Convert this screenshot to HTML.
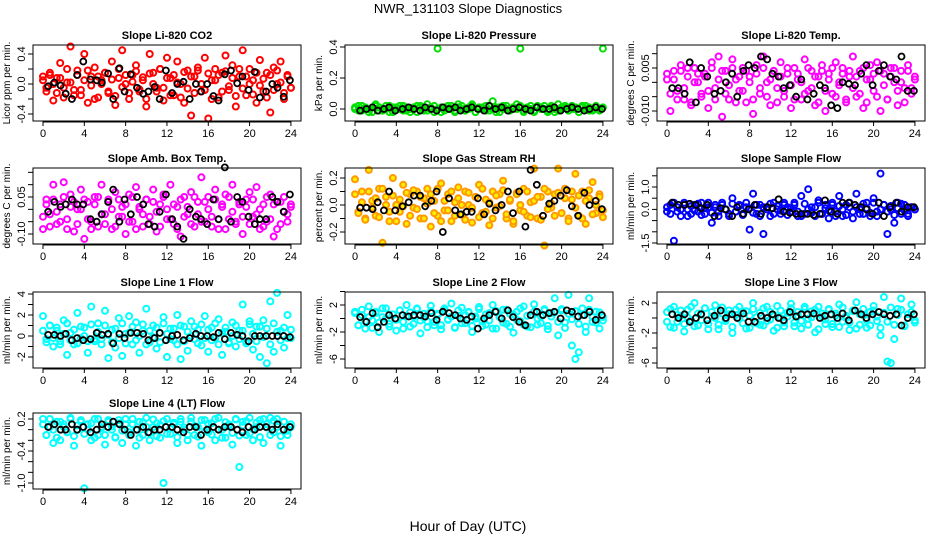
<!DOCTYPE html>
<html><head><meta charset="utf-8"><style>
body{margin:0;background:#fff}
svg{display:block;font-family:"Liberation Sans",sans-serif}
</style></head><body>
<svg id="c" width="936" height="540" viewBox="0 0 936 540">
<text x="468" y="13" text-anchor="middle" font-size="13">NWR_131103  Slope Diagnostics</text>
<text x="468" y="531" text-anchor="middle" font-size="14">Hour of Day (UTC)</text>
</svg>
<script>
const blackHours=[0.5,1.1,1.7,2.2,2.8,3.3,3.9,4.6,5.2,5.7,6.3,6.8,7.4,7.9,8.5,9.1,9.7,10.2,10.8,11.3,11.9,12.5,13.0,13.6,14.2,14.8,15.3,15.9,16.5,17.0,17.6,18.2,18.8,19.3,19.9,20.5,21.0,21.6,22.2,22.7,23.3,23.9];
const xTicks=[0,4,8,12,16,20,24];
const co2=[0.05,-0.1,0.12,-0.22,0.08,0.28,-0.05,0.02,0.5,-0.15,0.18,-0.08,0.4,-0.25,0.1,0.22,-0.18,0.05,0.15,-0.12,0.3,-0.28,0.08,0.45,0.0,-0.2,0.12,0.25,-0.1,0.05,-0.3,0.4,0.15,-0.05,0.2,-0.22,0.35,0.08,-0.15,0.3,0.0,-0.25,0.18,-0.42,0.1,0.22,-0.1,0.35,-0.46,0.05,0.2,-0.18,0.15,0.38,-0.08,0.25,-0.3,0.1,0.45,-0.15,0.2,0.05,-0.25,0.32,-0.1,0.15,-0.38,0.22,0.0,0.3,-0.2,0.12,-0.05];
const co2Dense=[0.1,-0.05,0.15,0.0,-0.12,0.08,-0.18,0.2,0.02,-0.08,0.12,-0.15,0.05,0.18,-0.02,-0.2,0.1,0.0,0.15,-0.1,0.06,-0.16,0.2,-0.04,0.12,-0.12,0.03,0.17,-0.07,0.09,-0.2,0.14,0.0,-0.1,0.2,-0.05,0.08,-0.15,0.12,0.02,-0.18,0.16,-0.06,0.1,-0.12,0.18,0.0,-0.08,0.14,-0.2,0.05,0.12,-0.1,0.17,-0.03,0.08,-0.16,0.2,-0.06,0.1,0.0,-0.14,0.15,-0.02,0.07,-0.18,0.12,-0.08,0.18,0.02,-0.12,0.1,-0.05];
const co2Black=[-0.03,0.02,-0.02,-0.13,-0.2,0.12,0.3,0.06,0.05,0.02,0.14,-0.2,0.21,-0.1,0.13,-0.05,-0.13,-0.1,-0.04,-0.2,0.18,-0.12,0.0,0.03,-0.2,0.0,-0.1,0.0,-0.16,-0.22,0.13,0.18,0.01,0.1,-0.08,0.16,-0.18,-0.1,0.0,-0.05,-0.17,0.05];
const press=[0.01,-0.01,0.02,0.0,-0.02,0.01,0.03,-0.01,0.0,0.02,-0.02,0.01,0.0,0.02,-0.01,0.01,-0.02,0.0,0.02,0.01,-0.01,0.03,0.0,-0.02,0.39,0.01,-0.01,0.02,0.0,-0.02,0.01,0.02,-0.01,0.0,0.03,-0.02,0.01,0.0,0.02,-0.01,0.05,0.01,-0.02,0.0,0.02,-0.01,0.01,0.03,0.39,-0.01,0.0,0.02,-0.02,0.01,0.0,0.02,-0.01,0.01,-0.02,0.03,0.0,0.01,-0.01,0.02,0.0,-0.02,0.01,0.02,-0.01,0.0,0.01,-0.01,0.39];
const pressDense=[0.0,0.02,-0.01,0.01,0.0,-0.02,0.02,0.01,-0.01,0.0,0.02,-0.02,0.01,0.0,0.02,-0.01,0.0,0.01,-0.02,0.02,0.0,-0.01,0.01,0.02,0.0,-0.02,0.01,0.0,0.02,-0.01,0.03,0.0,-0.01,0.01,0.02,-0.02,0.0,0.01,-0.01,0.02,0.0,-0.02,0.01,0.02,0.0,-0.01,0.01,0.0,0.02,-0.02,0.01,0.0,-0.01,0.02,0.01,0.0,-0.02,0.02,0.0,-0.01,0.01,0.02,-0.01,0.0,0.01,-0.02,0.02,0.0,0.01,-0.01,0.02,0.0,0.01];
const pressBlack=[-0.01,0.0,0.01,-0.01,0.0,0.01,-0.01,0.0,0.01,0.0,-0.01,0.01,0.0,-0.01,0.01,0.0,0.01,-0.01,0.0,0.01,0.0,-0.01,0.02,0.0,0.01,-0.01,0.0,0.01,0.0,-0.01,0.01,0.0,0.0,0.01,-0.01,0.0,0.01,0.0,-0.01,0.0,0.01,0.0];
const temp=[0.001,-0.01,0.004,-0.003,0.006,-0.006,0.002,-0.008,0.005,0.0,-0.004,0.003,-0.009,0.007,-0.002,0.009,-0.012,0.004,-0.006,0.008,0.001,-0.003,0.005,-0.007,0.002,-0.011,0.006,-0.004,0.009,0.0,-0.008,0.004,-0.002,0.007,-0.005,0.003,-0.009,0.005,0.001,-0.006,0.008,-0.003,0.004,-0.008,0.002,0.006,-0.01,0.003,-0.004,0.007,-0.001,0.005,-0.007,0.002,0.009,-0.005,0.004,-0.009,0.001,0.006,-0.003,0.007,-0.01,0.003,-0.006,0.005,0.0,-0.008,0.004,-0.002,0.006,-0.004,0.001];
const tempDense=[0.003,-0.004,0.001,-0.006,0.004,-0.002,0.005,-0.007,0.0,0.003,-0.005,0.002,-0.003,0.005,-0.006,0.001,0.004,-0.004,-0.001,0.005,-0.007,0.002,-0.003,0.004,0.0,-0.006,0.003,-0.002,0.005,-0.005,0.001,0.004,-0.007,0.002,-0.003,0.005,-0.001,-0.006,0.003,0.0,-0.004,0.005,-0.002,0.002,-0.007,0.004,-0.003,0.001,0.005,-0.005,0.0,0.003,-0.006,0.004,-0.002,0.002,-0.004,0.005,-0.007,0.001,0.003,-0.005,0.004,-0.001,-0.006,0.002,0.005,-0.003,0.0,-0.007,0.004,-0.002,0.002];
const tempBlack=[-0.002,-0.002,-0.004,0.007,-0.007,0.005,0.002,-0.004,-0.003,0.0,0.003,-0.005,0.004,0.006,0.005,0.009,0.008,0.003,0.002,-0.002,-0.001,-0.005,0.001,-0.006,-0.004,-0.001,-0.002,-0.008,-0.009,0.0,-0.0005,-0.001,0.003,0.006,-0.001,0.004,0.006,0.002,0.001,0.009,-0.003,-0.003];
const boxT=[-0.08,0.04,-0.02,0.1,-0.06,0.02,0.11,-0.04,0.06,-0.09,0.0,0.08,-0.12,0.03,-0.05,0.05,-0.07,0.1,-0.02,0.04,-0.08,0.07,-0.03,0.01,-0.1,0.06,-0.05,0.09,0.0,-0.07,0.04,-0.03,0.08,-0.09,0.02,0.06,-0.04,0.1,-0.06,0.01,-0.11,0.05,-0.02,0.07,-0.07,0.03,0.13,-0.05,0.05,-0.03,0.08,-0.08,0.01,0.06,-0.04,0.1,-0.06,0.02,-0.1,0.04,0.07,-0.03,0.09,-0.08,0.02,-0.05,0.06,-0.11,0.03,-0.06,0.05,-0.02,0.01];
const boxTDense=[-0.03,0.02,-0.07,0.04,-0.01,-0.05,0.05,-0.08,0.01,0.03,-0.06,0.0,0.04,-0.04,-0.08,0.02,0.05,-0.02,-0.06,0.03,0.0,-0.07,0.04,-0.03,0.02,-0.05,0.05,-0.08,0.01,-0.02,0.04,-0.06,0.03,-0.01,-0.07,0.05,0.0,-0.04,0.02,-0.08,0.04,-0.03,0.01,-0.06,0.05,-0.02,-0.05,0.03,0.0,-0.07,0.04,-0.04,0.02,-0.08,0.05,-0.01,-0.05,0.03,-0.03,0.01,-0.06,0.04,-0.02,0.0,-0.07,0.05,-0.04,0.02,-0.08,0.03,-0.01,-0.05,0.02];
const boxTBlack=[-0.01,0.03,0.01,0.02,0.04,0.02,0.02,-0.04,-0.05,-0.02,0.03,0.08,-0.05,0.04,-0.02,0.05,0.02,-0.06,-0.07,-0.01,0.06,-0.04,-0.07,-0.12,0.0,-0.03,-0.04,-0.06,0.04,-0.04,0.17,-0.05,0.05,0.03,-0.03,-0.06,-0.04,-0.04,0.05,0.03,-0.01,0.06];
const rh=[0.19,-0.05,0.1,-0.1,0.26,0.03,-0.08,0.12,-0.28,0.06,-0.12,0.2,0.0,-0.05,0.15,-0.14,0.08,-0.02,0.1,-0.1,0.05,0.12,-0.16,0.03,-0.08,0.16,-0.04,0.08,-0.12,0.02,0.13,-0.07,0.1,0.0,-0.13,0.06,0.15,-0.06,0.04,-0.15,0.1,-0.02,0.08,0.18,-0.1,0.03,-0.14,0.09,-0.04,0.12,-0.08,0.02,0.27,-0.1,0.06,-0.3,0.1,-0.02,0.08,0.27,-0.06,0.12,-0.1,0.04,0.23,-0.08,0.1,-0.14,0.05,0.17,-0.06,0.08,-0.04];
const rhDense=[0.08,-0.06,0.02,-0.11,0.1,-0.02,0.05,-0.09,0.12,0.0,-0.05,0.07,-0.12,0.04,-0.01,0.09,-0.08,0.11,-0.03,0.06,-0.1,0.01,0.08,-0.06,0.12,-0.12,0.03,-0.04,0.1,-0.08,0.05,0.0,-0.11,0.09,-0.02,0.06,-0.09,0.12,-0.05,0.02,-0.1,0.07,-0.01,0.11,-0.07,0.04,-0.12,0.08,0.0,-0.05,0.1,-0.09,0.03,0.06,-0.11,0.12,-0.03,0.01,-0.08,0.09,-0.06,0.05,-0.12,0.1,-0.02,0.07,-0.1,0.03,0.11,-0.07,0.0,0.06,-0.09];
const rhBlack=[-0.02,-0.02,-0.03,0.02,-0.04,0.1,-0.04,-0.01,0.02,0.07,0.07,-0.01,0.03,0.1,-0.2,0.05,-0.04,-0.07,-0.05,-0.05,0.05,-0.07,0.01,-0.04,0.0,0.1,-0.06,0.1,-0.16,0.26,0.15,-0.08,0.01,0.03,0.07,0.11,-0.01,-0.08,0.09,0.0,0.03,-0.03];
const sflow=[-0.1,0.2,-1.4,0.1,-0.3,0.3,0.0,-0.2,0.2,-0.1,0.3,-0.2,0.1,-0.6,0.2,-0.1,0.3,0.0,-0.3,0.5,-0.1,0.2,-0.2,0.1,-0.9,0.7,-0.2,0.2,-1.1,0.1,-0.3,0.3,0.0,-0.2,0.2,0.1,-0.1,0.3,-0.3,0.6,-0.2,0.9,0.1,-0.3,0.4,-0.2,0.2,-0.4,0.3,-0.1,0.6,-0.3,0.2,0.1,-0.4,0.7,0.0,-0.2,0.3,-0.3,0.5,-0.1,1.6,0.2,-1.1,0.0,-0.6,0.3,-0.2,0.2,-0.3,0.1,0.0];
const sflowDense=[0.1,-0.2,0.3,-0.1,0.0,0.2,-0.3,0.15,-0.05,0.25,-0.25,0.05,0.3,-0.15,0.1,-0.3,0.2,0.0,-0.2,0.25,-0.1,0.15,-0.25,0.3,0.05,-0.15,0.2,-0.3,0.1,0.0,0.25,-0.2,0.15,-0.05,0.3,-0.25,0.05,0.2,-0.1,-0.3,0.25,0.0,-0.15,0.1,0.3,-0.2,0.05,-0.05,0.2,-0.3,0.15,0.0,-0.25,0.3,-0.1,0.1,-0.2,0.25,0.05,-0.15,0.3,-0.3,0.0,0.2,-0.1,0.15,-0.25,0.05,0.25,-0.05,-0.2,0.1,0.0];
const sflowBlack=[0.3,0.2,0.2,0.25,0.2,0.05,0.2,-0.3,0.05,0.0,-0.3,0.1,-0.2,0.0,0.2,-0.2,0.1,0.05,0.45,-0.1,-0.15,-0.2,-0.2,-0.2,-0.25,-0.2,0.4,-0.1,-0.2,0.3,0.3,0.2,0.1,0.0,-0.2,0.3,-0.3,0.1,0.3,-0.1,0.1,0.1];
const line1=[1.9,-0.3,1.0,-1.0,0.5,-0.5,1.5,-1.8,0.3,-0.8,2.2,-0.2,0.8,-1.6,2.8,-0.5,1.2,-0.3,2.4,-2.1,0.6,-1.1,1.7,-1.9,0.2,1.9,-0.8,1.3,-1.6,0.5,2.6,-0.6,1.0,-1.2,0.3,1.8,-2.0,0.7,-0.4,2.0,-2.2,0.9,-1.4,1.4,-0.3,0.6,-0.9,1.9,-1.5,0.8,-0.2,1.6,-1.8,0.4,-0.7,1.3,-1.0,0.5,3.0,-0.5,1.4,-1.3,0.9,-2.0,1.5,-2.6,3.3,-1.5,4.1,0.5,-1.1,2.0,-0.2];
const line1Dense=[0.5,-0.6,1.0,-0.2,0.8,-0.8,0.2,1.2,-0.4,0.6,-0.7,0.9,0.0,-0.5,1.1,-0.3,0.4,-0.8,1.0,0.1,-0.6,0.7,-0.2,1.2,-0.7,0.3,0.9,-0.4,0.0,1.1,-0.8,0.5,-0.1,0.8,-0.6,1.2,0.2,-0.3,0.7,-0.8,1.0,-0.5,0.4,0.0,0.9,-0.7,1.1,-0.2,0.6,-0.4,1.2,-0.8,0.3,0.8,-0.6,0.0,1.0,-0.3,0.5,-0.7,1.1,0.2,-0.5,0.9,-0.1,0.7,-0.8,1.2,0.4,-0.4,0.8,-0.2,0.6];
const line1Black=[0.1,0.1,0.0,0.2,-0.4,-0.2,-0.4,-0.3,0.3,0.1,0.2,-0.7,0.2,-0.2,0.3,0.3,0.2,-0.4,-0.2,0.3,-0.4,0.0,0.1,-0.4,-0.2,0.2,0.0,0.0,-0.1,0.3,-0.3,0.3,0.1,0.0,-0.5,0.0,0.0,0.0,0.0,0.0,0.0,-0.1];
const line2=[1.0,-1.0,0.5,-1.5,1.8,-0.3,0.8,-2.0,0.2,1.5,-0.8,0.6,-1.8,1.2,-0.5,2.0,-1.2,0.3,1.5,-2.2,0.7,-0.4,1.9,-1.0,0.5,-1.6,1.2,-0.2,2.2,-1.3,0.4,1.6,-0.7,0.9,-2.0,0.3,1.7,-1.1,0.6,-0.3,2.0,-1.5,0.2,1.3,-0.8,0.7,-2.1,1.0,-0.4,1.8,-1.2,0.5,2.1,-0.9,0.3,1.4,-1.6,0.8,3.0,-2.5,1.2,-0.6,3.5,-4.0,-6.0,-5.0,1.5,-2.0,3.0,-0.5,1.0,-1.5,0.2];
const line2Dense=[0.8,-1.0,1.3,-0.4,0.2,-1.4,1.0,-0.6,1.5,0.0,-1.2,0.6,-0.2,1.2,-1.5,0.4,0.9,-0.8,1.4,-0.3,0.1,-1.3,1.1,-0.5,0.7,-1.0,1.5,-0.1,0.3,-1.4,1.2,-0.7,0.5,1.0,-1.1,0.0,1.4,-0.4,-0.9,0.8,-1.5,1.1,0.2,-0.6,1.3,-1.2,0.6,-0.2,1.5,-0.9,0.4,-1.3,1.0,0.0,-0.7,1.2,-1.1,0.3,0.9,-0.5,1.4,-1.4,0.7,-0.1,1.1,-0.8,0.5,-1.2,1.3,0.2,-0.6,0.9,-0.3];
const line2Black=[0.2,-0.5,0.8,-1.3,-0.5,0.5,0.0,0.5,0.3,0.5,0.5,0.3,0.8,-0.2,1.0,0.8,0.5,0.0,-0.2,0.3,-1.5,0.0,0.5,1.0,0.0,1.2,0.2,-0.5,-1.0,0.5,1.0,0.5,0.8,1.0,0.0,1.2,1.0,0.3,0.5,1.0,-0.2,0.5];
const line3=[0.8,-1.2,1.5,-0.5,0.3,-1.8,1.1,-0.3,2.0,-1.0,0.5,1.3,-0.8,0.2,1.7,-1.5,0.6,-0.2,1.0,-2.0,0.4,1.5,-0.7,0.9,-1.3,2.0,0.1,-0.9,1.3,-0.4,0.8,-1.7,1.6,0.0,-1.1,0.7,1.9,-0.6,0.3,-1.4,1.2,-0.1,0.9,-1.9,1.5,0.2,-0.8,1.1,-1.2,0.6,1.8,-0.5,0.3,-1.6,1.0,2.1,-0.9,0.4,-1.3,0.8,1.6,-0.4,-2.3,2.8,-5.8,-6.0,-2.8,1.2,2.6,-1.0,0.5,1.8,-0.3];
const line3Dense=[-0.5,1.2,-1.3,0.4,1.0,-0.8,0.1,1.5,-1.1,0.6,-0.3,1.3,-1.5,0.8,0.0,-0.9,1.4,-0.4,0.5,-1.2,1.1,-0.1,0.9,-1.4,0.3,1.2,-0.7,0.7,-1.0,1.5,-0.2,0.4,-1.3,1.0,-0.6,0.2,1.3,-1.1,0.8,-0.4,1.5,-0.9,0.1,1.1,-1.5,0.6,-0.2,1.2,-0.8,0.3,-1.2,1.4,0.0,-0.6,0.9,-1.4,0.5,1.2,-0.3,-1.0,1.0,0.2,-1.3,0.7,-0.5,1.4,-0.9,0.4,1.1,-1.1,0.0,0.8,-0.6];
const line3Black=[0.5,0.0,0.5,-0.5,0.0,0.5,-0.3,0.3,1.0,0.0,0.5,0.0,0.6,-0.5,-0.5,0.3,0.0,0.5,0.0,-0.3,0.8,0.2,0.5,0.5,0.6,0.0,0.3,0.5,0.0,0.6,-0.3,1.0,0.5,0.0,0.5,0.8,0.5,0.3,0.5,-1.0,0.0,0.5];
const line4=[0.2,-0.1,0.05,-0.25,0.15,-0.2,0.1,-0.05,0.22,-0.3,0.0,0.15,-1.1,0.1,-0.2,0.2,-0.1,0.05,-0.28,0.18,0.0,-0.15,0.12,-0.25,0.2,-0.05,0.1,-0.3,0.15,-0.1,0.22,-0.2,0.05,0.12,-0.15,-1.0,0.2,-0.08,0.1,-0.25,0.15,0.0,-0.2,0.22,-0.1,0.05,-0.3,0.18,-0.05,0.12,-0.2,0.22,0.0,-0.15,0.1,-0.28,0.2,-0.7,0.15,-0.1,0.22,-0.2,0.05,0.18,-0.25,0.1,0.22,-0.05,0.2,-0.3,0.15,-0.1,0.05];
const line4Dense=[0.1,-0.1,0.2,0.0,-0.15,0.15,0.05,-0.05,0.2,-0.12,0.08,0.18,-0.08,0.0,0.12,-0.15,0.2,0.03,-0.1,0.15,0.06,-0.14,0.18,-0.02,0.1,-0.1,0.2,0.0,-0.15,0.14,0.05,-0.06,0.19,-0.12,0.09,0.16,-0.08,0.02,0.13,-0.14,0.2,0.04,-0.1,0.15,0.07,-0.13,0.18,-0.03,0.11,-0.09,0.2,0.0,-0.15,0.14,0.06,-0.06,0.19,-0.11,0.08,0.16,-0.07,0.01,0.13,-0.14,0.2,0.04,-0.1,0.17,0.05,-0.12,0.15,-0.02,0.1];
const line4Black=[0.05,0.1,0.0,0.0,0.1,0.0,0.05,-0.05,0.0,0.1,0.05,0.15,0.1,0.0,-0.1,0.0,0.05,-0.05,0.0,0.0,0.05,0.05,0.0,-0.05,0.05,0.05,-0.1,0.0,0.05,0.0,0.05,0.05,0.0,-0.05,0.05,0.0,0.05,0.05,0.0,0.1,0.0,0.05];

const NS='http://www.w3.org/2000/svg';
const svg=document.getElementById('c');
const colX=[43,355,667], rowTop=[45,168,292,413], PXH=10.33, BOXH=76;
function mk(tag,attrs,parent){const e=document.createElementNS(NS,tag);for(const k in attrs)e.setAttribute(k,attrs[k]);(parent||svg).appendChild(e);return e;}
const panels=[
 {id:'co2',c:0,r:0,title:'Slope Li-820 CO2',yl:'Licor ppm per min.',data:[co2,co2Dense],blk:co2Black,col:'#ff0000',ref:[0.4,54,-0.4,114],ticks:[-0.4,-0.2,0,0.2,0.4],labels:[[-0.4,'-0.4'],[0,'0.0'],[0.4,'0.4']]},
 {id:'pressure',c:1,r:0,title:'Slope Li-820 Pressure',yl:'kPa per min.',data:[press,pressDense],blk:pressBlack,col:'#00e000',ref:[0.4,47,0,109],ticks:[0,0.2,0.4],labels:[[0,'0.0'],[0.2,'0.2'],[0.4,'0.4']]},
 {id:'temp',c:2,r:0,title:'Slope Li-820 Temp.',yl:'degrees C per min.',data:[temp,tempDense],blk:tempBlack,col:'#ff00ff',ref:[0.005,68,-0.01,111],ticks:[-0.01,-0.005,0,0.005,0.01],labels:[[-0.01,'-0.010'],[0.005,'0.005']]},
 {id:'box-temp',c:0,r:1,title:'Slope Amb. Box Temp.',yl:'degrees C per min.',data:[boxT,boxTDense],blk:boxTBlack,col:'#ff00ff',ref:[0.05,197,-0.1,234],ticks:[-0.1,-0.05,0,0.05,0.1,0.15],labels:[[-0.1,'-0.10'],[0.05,'0.05']]},
 {id:'gas-rh',c:1,r:1,title:'Slope Gas Stream RH',yl:'percent per min.',data:[rh,rhDense],blk:rhBlack,col:'#ff9900',fill:'#ffee00',ref:[0.2,178,-0.2,232],ticks:[-0.2,-0.1,0,0.1,0.2],labels:[[-0.2,'-0.2'],[0,'0.0'],[0.2,'0.2']]},
 {id:'sample-flow',c:2,r:1,title:'Slope Sample Flow',yl:'ml/min per min.',data:[sflow,sflowDense],blk:sflowBlack,col:'#0000ff',ref:[1.0,187,-1.5,243],ticks:[-1.5,-1,-0.5,0,0.5,1,1.5],labels:[[-1.5,'-1.5'],[0,'0.0'],[1,'1.0']]},
 {id:'line1-flow',c:0,r:2,title:'Slope Line 1 Flow',yl:'ml/min per min.',data:[line1,line1Dense],blk:line1Black,col:'#00ffff',ref:[4,294,-2,357],ticks:[-2,-1,0,1,2,3,4],labels:[[-2,'-2'],[0,'0'],[2,'2'],[4,'4']]},
 {id:'line2-flow',c:1,r:2,title:'Slope Line 2 Flow',yl:'ml/min per min.',data:[line2,line2Dense],blk:line2Black,col:'#00ffff',ref:[2,305,-6,359],ticks:[-6,-4,-2,0,2,4],labels:[[-6,'-6'],[-2,'-2'],[2,'2']]},
 {id:'line3-flow',c:2,r:2,title:'Slope Line 3 Flow',yl:'ml/min per min.',data:[line3,line3Dense],blk:line3Black,col:'#00ffff',ref:[2,303,-6,363],ticks:[-6,-4,-2,0,2],labels:[[-6,'-6'],[-2,'-2'],[2,'2']]},
 {id:'line4-flow',c:0,r:3,title:'Slope Line 4 (LT) Flow',yl:'ml/min per min.',data:[line4,line4Dense],blk:line4Black,col:'#00ffff',ref:[0.2,419,-1.0,483],ticks:[-1,-0.8,-0.6,-0.4,-0.2,0,0.2],labels:[[-1,'-1.0'],[-0.4,'-0.4'],[0.2,'0.2']]}
];
panels.forEach(p=>{
 const x0=colX[p.c], top=rowTop[p.r], bot=top+BOXH, left=x0-10, right=x0+258;
 const X=h=>x0+h*PXH;
 const [v1,p1,v2,p2]=p.ref;
 const Y=v=>p1+(v-v1)*(p2-p1)/(v2-v1);
 const g=mk('g',{});
 
 
 const t=mk('text',{x:(left+right)/2,y:top-6,'text-anchor':'middle','font-size':11,'font-weight':'bold'},g);t.textContent=p.title;
 
 
 const yl=mk('text',{x:0,y:0,'text-anchor':'middle','font-size':10,transform:`translate(${left-23},${(top+bot)/2}) rotate(-90)`},g);yl.textContent=p.yl;
 
 
 const pts=mk('g',{fill:p.fill||'none',stroke:p.col,'stroke-width':2},g);
 
 
 p.data.forEach(arr=>{const n=arr.length;
  arr.forEach((v,i)=>{const c=mk('circle',{cx:X(i*24/(n-1)).toFixed(1),cy:Y(v).toFixed(1),r:3},pts);
   
   });});
 const bk=mk('g',{fill:'none',stroke:'#000','stroke-width':1.8},g);
 
 
 p.blk.forEach((v,i)=>{if(blackHours[i]===undefined)return;const c=mk('circle',{cx:X(blackHours[i]).toFixed(1),cy:Y(v).toFixed(1),r:3},bk);
  
  });
 mk('rect',{x:left,y:top,width:right-left,height:BOXH,fill:'none',stroke:'#000','stroke-width':1},g);
 mk('line',{x1:X(0),x2:X(24),y1:bot+1,y2:bot+1,stroke:'#000'},g);
 xTicks.forEach(h=>{mk('line',{x1:X(h),x2:X(h),y1:bot,y2:bot+5,stroke:'#000'},g);
  const l=mk('text',{x:X(h),y:bot+16,'text-anchor':'middle','font-size':11},g);l.textContent=h;
  
  });
 mk('line',{x1:left,x2:left,y1:Y(p.ticks[0]),y2:Y(p.ticks[p.ticks.length-1]),stroke:'#000'},g);
 p.ticks.forEach(v=>mk('line',{x1:left-5,x2:left,y1:Y(v),y2:Y(v),stroke:'#000'},g));
 p.labels.forEach(([v,s])=>{const l=mk('text',{x:0,y:0,'text-anchor':'middle','font-size':11,transform:`translate(${left-8},${Y(v)}) rotate(-90)`},g);l.textContent=s;
  
  });
});
</script>
</body></html>
